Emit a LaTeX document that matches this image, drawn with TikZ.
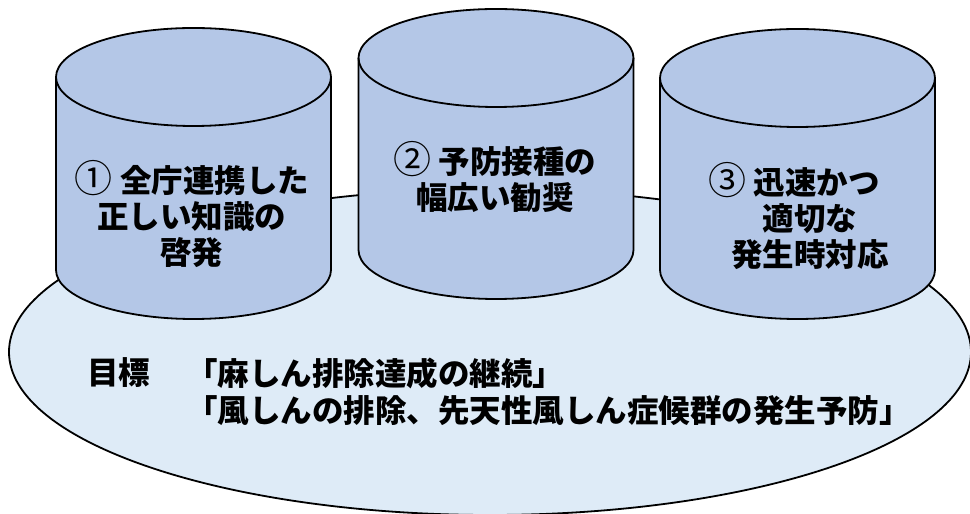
\documentclass[tikz,border=0pt]{standalone}
\usepackage{fontspec}
\setmainfont{Noto Sans CJK JP}
\usetikzlibrary{positioning}
\definecolor{drumfill}{HTML}{B4C7E7}
\definecolor{basefill}{HTML}{DEEBF7}
\newcommand{\circnum}[1]{{\mdseries\fontsize{38}{36}\selectfont #1}}

\begin{document}
\begin{tikzpicture}[x=1pt,y=1pt,
    outline/.style={draw=black, line width=1.8pt},
    drum/.style={outline, fill=drumfill},
    drumtext/.style={align=center, font=\fontsize{31.5}{36}\selectfont\bfseries, inner sep=0pt},
    goaltext/.style={align=left, font=\fontsize{31.5}{37}\selectfont\bfseries, inner sep=0pt}]
    \useasboundingbox (0,0) rectangle (970,514);
    % base: the goal
    \draw[outline, fill=basefill] (490,162) ellipse [x radius=481pt, y radius=163pt];
    % three drums standing on the base
    \foreach \cx/\ytop/\ybot in {193.5/437/244, 496/456/264, 797.5/436/244} {
      \filldraw[drum] (\cx-137.5,\ytop) -- (\cx-137.5,\ybot)
        arc[start angle=180, end angle=360, x radius=137.5pt, y radius=49pt]
        -- (\cx+137.5,\ytop)
        arc[start angle=0, end angle=180, x radius=137.5pt, y radius=49pt] -- cycle;
      % front rim of the lid
      \draw[outline] (\cx-137.5,\ytop)
        arc[start angle=180, end angle=360, x radius=137.5pt, y radius=49pt];
    }
    \node[drumtext] (awareness) at (192,300) {\circnum{①} 全庁連携した\\正しい知識の\\啓発};
    \node[drumtext] (vaccination) at (495,337) {\circnum{②} 予防接種の\\幅広い勧奨};
    \node[drumtext] (response) at (810,298) {\circnum{③} 迅速かつ　\\適切な\\発生時対応};
    % goal text
    \node[goaltext, anchor=west] (goallabel) at (87,141) {目標};
    \node[goaltext, anchor=west] (goallines) at (186,122.5) {「麻しん排除達成の継続」\\「風しんの排除、先天性風しん症候群の発生予防」};
\end{tikzpicture}
\end{document}
